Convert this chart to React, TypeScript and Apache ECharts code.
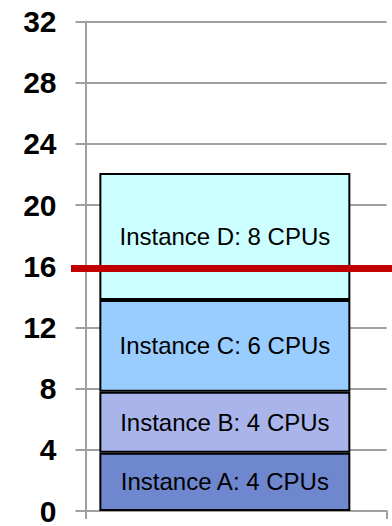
import React, { useEffect, useRef } from "react";
import * as echarts from "echarts";

const categories = ["Total"];
const instanceNames = ["Instance A: 4 CPUs", "Instance B: 4 CPUs", "Instance C: 6 CPUs", "Instance D: 8 CPUs"];
const instanceValues = [3.8, 4.0, 6.0, 8.3];
const instanceColors = ["#6E87CF", "#A9B5EA", "#99CCFF", "#CCFFFF"];
const thresholdValue = 16;
const yMin = 0;
const yMax = 32;
const yInterval = 4;

export default function App() {
  const ref = useRef<HTMLDivElement>(null);
  useEffect(() => {
    if (!ref.current) return;
    const chart = echarts.init(ref.current, null, { renderer: "svg" });
    const gridPos = { top: 21.5, bottom: 10.3 };
    const barSeries: any[] = instanceNames.map((name, i) => ({
      type: "bar",
      name,
      stack: "total",
      xAxisIndex: 0,
      yAxisIndex: 0,
      barWidth: 251,
      barGap: 0,
      data: [instanceValues[i]],
      itemStyle: { color: instanceColors[i], borderColor: "#000", borderWidth: 2 },
      label: {
        show: true,
        position: "inside",
        formatter: name,
        color: "#000",
        fontSize: 24,
        fontFamily: "Liberation Sans, Arial, sans-serif",
      },
      z: 3,
    }));
    barSeries.push({
      type: "bar",
      name: "spacer",
      stack: "spacer",
      xAxisIndex: 0,
      yAxisIndex: 0,
      barWidth: 22.5,
      barGap: 0,
      data: [0],
      itemStyle: { color: "transparent" },
      silent: true,
    });
    barSeries.push({
      type: "line",
      name: "threshold",
      xAxisIndex: 1,
      yAxisIndex: 1,
      data: [
        [0, thresholdValue],
        [1, thresholdValue],
      ],
      symbol: "none",
      lineStyle: { color: "#C00000", width: 7 },
      z: 10,
      silent: true,
    });
    chart.setOption({
      animation: false,
      backgroundColor: "#fff",
      grid: [
        { left: 85.5, right: 5.3, ...gridPos },
        { left: 71, right: 0, ...gridPos },
      ],
      xAxis: [
        {
          type: "category",
          gridIndex: 0,
          data: categories,
          boundaryGap: true,
          axisLine: { show: true, lineStyle: { color: "#A0A0A0", width: 2 } },
          axisTick: { show: true, length: 8, alignWithLabel: false, interval: 0, lineStyle: { color: "#A0A0A0", width: 2 } },
          axisLabel: { show: false },
          splitLine: { show: false },
        },
        {
          type: "value",
          gridIndex: 1,
          min: 0,
          max: 1,
          show: false,
        },
      ],
      yAxis: [
        {
          type: "value",
          gridIndex: 0,
          min: yMin,
          max: yMax,
          interval: yInterval,
          axisLine: { show: true, lineStyle: { color: "#A0A0A0", width: 2 } },
          axisTick: { show: true, length: 10, lineStyle: { color: "#A0A0A0", width: 2 } },
          axisLabel: {
            color: "#000",
            fontWeight: "bold",
            fontSize: 30,
            margin: 29,
            fontFamily: "Liberation Sans, Arial, sans-serif",
          },
          splitLine: { show: true, lineStyle: { color: "#A0A0A0", width: 2 } },
        },
        {
          type: "value",
          gridIndex: 1,
          min: yMin,
          max: yMax,
          show: false,
          splitLine: { show: false },
        },
      ],
      series: barSeries,
    });
    return () => chart.dispose();
  }, []);
  return <div ref={ref} style={{ position: "fixed", left: 0, top: 0, width: 392, height: 526 }} />;
}
